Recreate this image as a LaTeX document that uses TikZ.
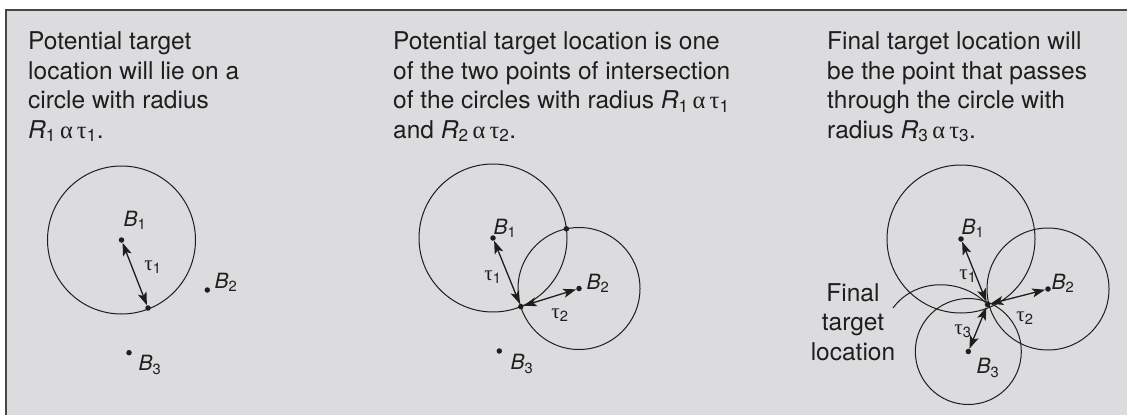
\documentclass[tikz,border=0pt]{standalone}
\usepackage{fontspec}
\setmainfont{TeX Gyre Heros}
\newfontfamily\grk{Liberation Serif}
\usepackage{tikz}
\usetikzlibrary{arrows.meta}
\definecolor{panelgray}{RGB}{220,220,222}
\definecolor{rimgray}{RGB}{70,70,70}
\definecolor{inkblack}{RGB}{30,30,30}
\newcommand{\gk}[1]{{\grk #1}}
\newcommand{\bsub}[2]{\textit{#1}\textsubscript{#2}}
\newcommand{\rat}[1]{\bsub{R}{#1}\,\gk{α}\,\gk{τ}\textsubscript{#1}}

\begin{document}
\begin{tikzpicture}[x=1pt,y=-1pt,
	dot/.style={circle,fill=inkblack,inner sep=0pt,minimum size=5.5pt},
	lab/.style={font=\fontsize{21}{23}\selectfont,text=inkblack,inner sep=0pt},
	head/.style={font=\fontsize{24.5}{29.5}\selectfont,text=inkblack,align=left,anchor=base west,inner sep=0pt},
	rng/.style={draw=inkblack,line width=1pt},
	tw/.style={{Stealth[length=13pt,width=9pt,inset=3pt]}-{Stealth[length=13pt,width=9pt,inset=3pt]},draw=inkblack,line width=1.3pt}]

	\useasboundingbox (0,0) rectangle (1127,415);
	\fill[white] (0,0) rectangle (1127,415);
	\fill[panelgray] (6,10) rectangle (1127,415);
	\draw[rimgray,line width=1.5pt] (6,415) -- (6,10) -- (1127,10);

	\node[head] (t1) at (28,138) {Potential target\\location will lie on a\\circle with radius\\\rat{1}.};
	\node[head] (t2) at (393,138) {Potential target location is one\\of the two points of intersection\\of the circles with radius \rat{1}\\and \rat{2}.};
	\node[head] (t3) at (827,138) {Final target location will\\be the point that passes\\through the circle with\\radius \rat{3}.};

	\node[dot] (a1) at (121.5,240) {};
	\node[dot] (a2) at (207.3,290) {};
	\node[dot] (a3) at (129,352.7) {};
	\node[dot] (ap) at (148,308) {};
	\draw[rng] (a1) circle (74pt);
	\draw[tw] (a1) -- (ap);
	\node[lab] at (135,220) {\bsub{B}{1}};
	\node[lab] at (153,267) {\gk{τ}\textsubscript{1}};
	\node[lab] at (226,282) {\bsub{B}{2}};
	\node[lab] at (150,365) {\bsub{B}{3}};

	\node[dot] (m1) at (493,238) {};
	\node[dot] (m2) at (579,288.5) {};
	\node[dot] (m3) at (499.3,351) {};
	\node[dot] (mp) at (520.8,306.6) {};
	\node[dot] (mq) at (566.4,228.8) {};
	\draw[rng] (m1) circle (74pt);
	\draw[rng] (m2) circle (61pt);
	\draw[tw] (m1) -- (mp);
	\draw[tw] (mp) -- (m2);
	\node[lab] at (505,228) {\bsub{B}{1}};
	\node[lab] at (493,277) {\gk{τ}\textsubscript{1}};
	\node[lab] at (598,283) {\bsub{B}{2}};
	\node[lab] at (560,315) {\gk{τ}\textsubscript{2}};
	\node[lab] at (522,364) {\bsub{B}{3}};

	\node[dot] (f1) at (961,239) {};
	\node[dot] (f2) at (1048,289) {};
	\node[dot] (f3) at (968.3,351.5) {};
	\node[dot] (fp) at (987.5,304.5) {};
	\draw[rng] (f1) circle (74pt);
	\draw[rng] (f2) circle (61pt);
	\draw[rng] (f3) circle (53pt);
	\draw[tw] (fp) -- (f1);
	\draw[tw] (fp) -- (f2);
	\draw[tw] (fp) -- (f3);
	\node[lab] at (973,228) {\bsub{B}{1}};
	\node[lab] at (968,276) {\gk{τ}\textsubscript{1}};
	\node[lab] at (1063,283) {\bsub{B}{2}};
	\node[lab] at (1025,318) {\gk{τ}\textsubscript{2}};
	\node[lab] at (963,331) {\gk{τ}\textsubscript{3}};
	\node[lab] at (988,368) {\bsub{B}{3}};

	\node[head,align=center,anchor=base] (fin) at (853,360) {Final\\target\\location};
	\coordinate (lead) at (893,308);
	\draw[rng] (lead) .. controls (915,278) and (960,278) .. (fp);
\end{tikzpicture}
\end{document}
